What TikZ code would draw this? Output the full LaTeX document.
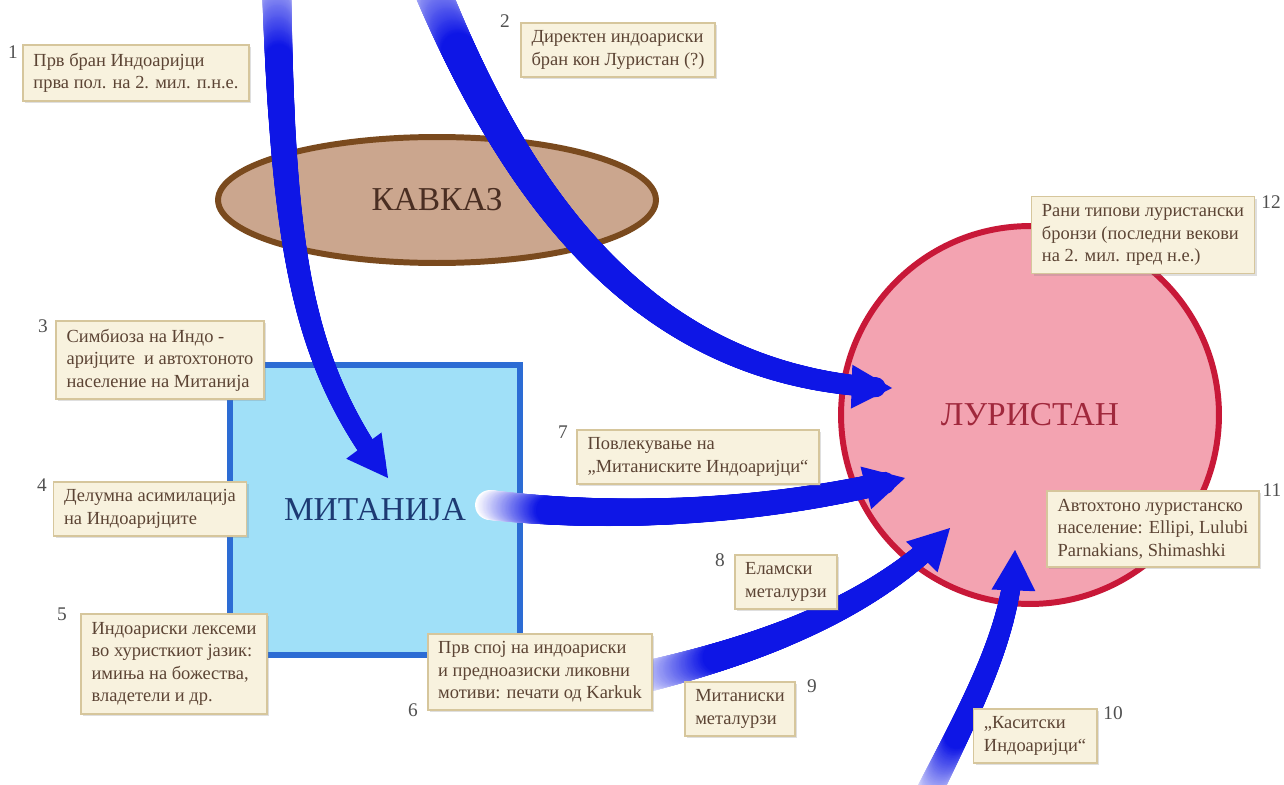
\documentclass[tikz,border=0pt]{standalone}
\usepackage{fontspec}
\setmainfont{Liberation Serif}
\usetikzlibrary{shapes.geometric,decorations.markings,shadows}

\tikzset{
    note/.style={draw=notebrd, line width=1pt, fill=notefill, text=notetext,
        align=left, inner xsep=6pt, inner ysep=4.5pt,
        font=\fontsize{10.5}{12.8}\selectfont,
        drop shadow={shadow xshift=1.2pt, shadow yshift=-1.2pt, opacity=0.25}},
    num/.style={text=numgray, inner sep=0pt, font=\fontsize{11}{12}\selectfont},
    region/.style={line width=3.4pt, inner sep=0pt, font=\fontsize{19}{22}\selectfont},
    % tapered stream: start width, end width (pt), fade-in length (pt)
    flow/.style n args={3}{
        postaction={decoration={markings,
            mark=between positions 0 and -14pt step 0.6pt with {
                \pgfmathsetmacro{\flowd}{\pgfkeysvalueof{/pgf/decoration/mark info/distance from start}}
                \pgfmathsetmacro{\flowf}{\flowd/\pgfdecoratedpathlength}
                \pgfmathsetmacro{\flowr}{\flowd > \pgfdecoratedpathlength-14 ? 0 : (#1+(#2-#1)*\flowf)/2}
                \pgfmathtruncatemacro{\flowc}{min(100,(\flowd/#3)*100)}
                \fill[flowblue!\flowc!white] (0,0) circle (\flowr pt);
            }}, decorate},
        postaction={decoration={markings,
            mark=at position -0.2pt with {
                \fill[flowblue] (0.2pt,0pt) -- (-22.8pt,12.5pt) -- (-22.8pt,-12.5pt) -- cycle;
            }}, decorate}}
}

\begin{document}
\begin{tikzpicture}[x=0.02cm, y=-0.02cm]
    \definecolor{flowblue}{RGB}{14,22,230}
    \definecolor{notefill}{RGB}{248,242,222}
    \definecolor{notebrd}{RGB}{214,198,156}
    \definecolor{notetext}{RGB}{92,68,52}
    \definecolor{numgray}{RGB}{80,80,80}
    \definecolor{kavfill}{RGB}{203,166,142}
    \definecolor{kavbrd}{RGB}{122,74,30}
    \definecolor{mitfill}{RGB}{160,224,248}
    \definecolor{mitbrd}{RGB}{44,108,212}
    \definecolor{lurfill}{RGB}{243,163,177}
    \definecolor{lurbrd}{RGB}{200,24,56}

    \useasboundingbox[fill=white] (0,0) rectangle (1284,784);

    % regions
    \node[region, ellipse, draw=kavbrd, fill=kavfill, text={rgb,255:red,74;green,46;blue,34},
        minimum width=8.76cm, minimum height=2.52cm] (kavkaz) at (437,200) {КАВКАЗ};
    \node[region, rectangle, draw=mitbrd, fill=mitfill, text={rgb,255:red,29;green,58;blue,115},
        minimum size=5.8cm] (mitanija) at (375,510) {МИТАНИЈА};
    \node[region, circle, draw=lurbrd, fill=lurfill, text={rgb,255:red,160;green,40;blue,60},
        minimum size=7.56cm] (luristan) at (1030,415) {ЛУРИСТАН};

    % migration streams
    \coordinate (s1) at (276,-40);
    \coordinate (e1) at (388,478);
    \coordinate (s2) at (420,-40);
    \coordinate (e2) at (892,388);
    \coordinate (s3) at (490,505);
    \coordinate (e3) at (905,478);
    \coordinate (s4) at (640,678);
    \coordinate (e4) at (950,528);
    \coordinate (s5) at (925,800);
    \coordinate (e5) at (1015,550);
    \path[flow={17}{10}{55}] (s1) .. controls (282,250) and (300,360) .. (e1);
    \path[flow={21}{11}{55}] (s2) .. controls (510,190) and (640,380) .. (e2);
    \path[flow={17}{12.5}{34}] (s3) .. controls (620,520) and (770,512) .. (e3);
    \path[flow={18}{11}{45}] (s4) .. controls (780,645) and (880,600) .. (e4);
    \path[flow={15}{10}{40}] (s5) .. controls (975,700) and (1012,630) .. (e5);

    % notes
    \node[note] (b1) at (136,73) {Прв бран Индоаријци\\прва пол. на 2. мил. п.н.е.};
    \node[note] (b2) at (618,50) {Директен индоариски\\бран кон Луристан (?)};
    \node[note] (b3) at (160,360) {Симбиоза на Индо -\\аријците \ и автохтоното\\население на Митанија};
    \node[note] (b4) at (150,509) {Делумна асимилација\\на Индоаријците};
    \node[note] (b5) at (174,664) {Индоариски лексеми\\во хуристкиот јазик:\\имиња на божества,\\владетели и др.};
    \node[note] (b6) at (540,672) {Прв спој на индоариски\\и предноазиски ликовни\\мотиви: печати од Karkuk};
    \node[note] (b7) at (698,457) {Повлекување на\\„Митаниските Индоаријци“};
    \node[note] (b8) at (786,582) {Еламски\\металурзи};
    \node[note] (b9) at (740,709) {Митаниски\\металурзи};
    \node[note] (b10) at (1035,736) {„Каситски\\Индоаријци“};
    \node[note] (b11) at (1153,529) {Автохтоно луристанско\\население: Ellipi, Lulubi\\Parnakians, Shimashki};
    \node[note] (b12) at (1143,235) {Рани типови луристански\\бронзи (последни векови\\на 2. мил. пред н.е.)};

    \node[num] (n1) at (13,52) {1};
    \node[num] (n2) at (505,21) {2};
    \node[num] (n3) at (43,326) {3};
    \node[num] (n4) at (42,485) {4};
    \node[num] (n5) at (62,614) {5};
    \node[num] (n6) at (413,710) {6};
    \node[num] (n7) at (563,432) {7};
    \node[num] (n8) at (720,560) {8};
    \node[num] (n9) at (812,686) {9};
    \node[num] (n10) at (1113,713) {10};
    \node[num] (n11) at (1272,490) {11};
    \node[num] (n12) at (1271,202) {12};
\end{tikzpicture}
\end{document}
